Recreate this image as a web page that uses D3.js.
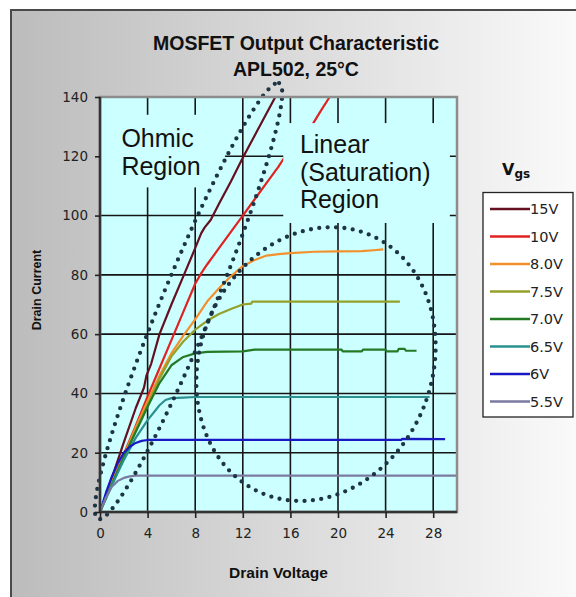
<!DOCTYPE html>
<html><head><meta charset="utf-8">
<script src="https://cdn.jsdelivr.net/npm/d3@7"></script>
<style>body{margin:0;background:#fff}svg{display:block}</style>
</head><body>
<svg id="c" width="576" height="597"></svg>
<script>
// ---------- data ----------
const titleLines = ["MOSFET Output Characteristic", "APL502, 25°C"];
const xTicks = [0, 4, 8, 12, 16, 20, 24, 28];
const yTicks = [0, 20, 40, 60, 80, 100, 120, 140];
const seriesNames = ["15V", "10V", "8.0V", "7.5V", "7.0V", "6.5V", "6V", "5.5V"];

const vgs15 = [[0,0],[0.5,5.5],[1,11.5],[2,23.5],[3,35],[3.7,42],[3.9,46],[4.3,50],[5,60],[6,70],[7,79.5],[8,89],[8.5,94],[8.8,96],[9.3,98.5],[10,104],[11,111.5],[12,119.5],[13,127],[14,134.5],[14.8,140.5]];
const vgs10 = [[0,0],[1,10],[2,19.5],[3,29],[4,39],[5,48.5],[6,58],[7,67.5],[8,77],[8.5,80.5],[9,83.5],[10,89],[11,94.5],[12,100],[13,105.5],[14,111],[15,116.5],[15.4,119],[16,122],[17,126.5],[17.9,131],[18.5,135],[19.3,140]];
const vgs8  = [[0,0],[1,10],[2,19],[3,28.5],[4,37.5],[5,46],[6,53.5],[7,59.5],[8,65],[9,71],[10,75.5],[11,79.5],[12,83],[13,85],[14,86.5],[15,87],[16,87.3],[18,87.8],[20,87.9],[22,88],[23,88.3],[23.8,88.6]];
const vgs75 = [[0,0],[1,9.5],[2,18.5],[3,27.5],[4,36],[5,45],[6,52.5],[7,57.5],[8,61.5],[9,64.5],[10,66.8],[11,68.5],[12,70],[12.7,70.3],[12.8,71],[25.2,71]];
const vgs70 = [[0,0],[1,9.5],[2,18.5],[3,27],[4,35.5],[5,43.5],[6,49.5],[7,52.3],[8,53.5],[9,54],[12,54.2],[13,54.8],[20.3,54.8],[20.4,54.2],[22,54.2],[22.1,54.8],[24,54.8],[24.1,54.2],[25,54.2],[25.1,55],[25.6,55],[25.7,54.4],[26.6,54.4]];
const vgs65 = [[0,0],[1,9],[2,17.5],[3,25],[4,31],[4.6,34],[5,36],[5.5,37.8],[6,38.4],[7,38.6],[8,38.8],[27.7,38.8]];
const vgs60 = [[0,0],[0.5,6.5],[1,12],[1.5,16.5],[2,20],[2.5,22],[3,23.3],[3.5,24],[4,24.3],[25.3,24.3],[25.4,24.7],[29,24.6]];
const vgs55 = [[0,0],[0.5,5],[1,8.5],[1.5,10.5],[2,11.5],[2.5,12],[3,12.3],[30,12.3]];
const seriesValues = [vgs15, vgs10, vgs8, vgs75, vgs70, vgs65, vgs60, vgs55];

// ---------- styles ----------
const seriesColors = ["#641020", "#e02222", "#f2902c", "#94a02a", "#247a24", "#2a9090", "#1818c4", "#7a7aa0"];
const plotBg = "#ccffff";

const svg = d3.select("#c");
const W = 576, H = 597;
const P = {l: 100, r: 457, t: 97, b: 512};
const x = d3.scaleLinear().domain([0, 30]).range([P.l, P.r]);
const y = d3.scaleLinear().domain([0, 140]).range([P.b, P.t]);

const defs = svg.append("defs");
const grad = defs.append("linearGradient").attr("id", "bg").attr("x1", "0").attr("x2", "1").attr("y1", "0").attr("y2", "0");
grad.append("stop").attr("offset", "0").attr("stop-color", "#bcbcbc");
grad.append("stop").attr("offset", "0.5").attr("stop-color", "#dcdcdc");
grad.append("stop").attr("offset", "1").attr("stop-color", "#fdfdfd");
defs.append("clipPath").attr("id", "plotclip").append("rect")
  .attr("x", P.l).attr("y", P.t).attr("width", P.r - P.l).attr("height", P.b - P.t);

svg.append("rect").attr("width", W).attr("height", H).attr("fill", "#fff");
svg.append("rect").attr("x", 11).attr("y", 10).attr("width", W + 20).attr("height", H + 20)
  .attr("fill", "url(#bg)").attr("stroke", "#4a4a4a").attr("stroke-width", 2);

// title
svg.append("g").selectAll("text").data(titleLines).join("text")
  .attr("x", 296).attr("y", (d, i) => 50 + i * 26)
  .attr("text-anchor", "middle").attr("font-family", "Liberation Sans, Arial, sans-serif")
  .attr("font-weight", "bold").attr("font-size", 19.5).attr("fill", "#111").text(d => d);

// plot area
svg.append("rect").attr("x", P.l).attr("y", P.t).attr("width", P.r - P.l).attr("height", P.b - P.t).attr("fill", plotBg);

// gridlines
const grid = svg.append("g").attr("stroke", "#151515").attr("stroke-width", 1.6);
grid.selectAll("line.v").data(xTicks.filter(d => d > 0)).join("line")
  .attr("x1", d => x(d)).attr("x2", d => x(d)).attr("y1", P.t).attr("y2", P.b);
grid.selectAll("line.h").data(yTicks.filter(d => d > 0 && d < 140)).join("line")
  .attr("x1", P.l).attr("x2", P.r).attr("y1", d => y(d)).attr("y2", d => y(d));

// series
const line = d3.line().x(d => x(d[0])).y(d => y(d[1]));
svg.append("g").attr("clip-path", "url(#plotclip)").selectAll("path")
  .data(seriesValues).join("path")
  .attr("d", line).attr("fill", "none")
  .attr("stroke", (d, i) => seriesColors[i]).attr("stroke-width", 2.2).attr("stroke-linejoin", "round");

// annotation text boxes (opaque, in data units)
const boxes = [
  {x0: 0, x1: 10.5, y0: 109.5, y1: 134, lines: ["Ohmic", "Region"], tx: 1.8, ty: [123, 113.6]},
  {x0: 15.4, x1: 29.4, y0: 97.5, y1: 131.2, lines: ["Linear", "(Saturation)", "Region"], tx: 16.8, ty: [121, 111.7, 102.4]}
];
boxes.forEach(b => {
  svg.append("rect").attr("x", x(b.x0)).attr("y", y(b.y1)).attr("width", x(b.x1) - x(b.x0)).attr("height", y(b.y0) - y(b.y1)).attr("fill", plotBg);
  svg.append("g").selectAll("text").data(b.lines).join("text")
    .attr("x", x(b.tx)).attr("y", (d, i) => y(b.ty[i]))
    .attr("font-family", "Liberation Sans, Arial, sans-serif").attr("font-size", 25).attr("fill", "#111").text(d => d);
});

// dotted ellipses
function ellipsePts(cx, cy, a, b, th) {
  const pts = [];
  for (let k = 0; k <= 360; k++) {
    const t = k * Math.PI / 180;
    const ex = a * Math.cos(t), ey = b * Math.sin(t);
    pts.push([cx + ex * Math.cos(th) - ey * Math.sin(th), cy + ex * Math.sin(th) + ey * Math.cos(th)]);
  }
  return pts;
}
const ohmTips = [[-0.17, -2.4], [15.05, 144.7]];
const p1 = [x(ohmTips[0][0]), y(ohmTips[0][1])], p2 = [x(ohmTips[1][0]), y(ohmTips[1][1])];
const ohm = ellipsePts((p1[0] + p2[0]) / 2, (p1[1] + p2[1]) / 2,
  Math.hypot(p2[0] - p1[0], p2[1] - p1[1]) / 2, 26, Math.atan2(p2[1] - p1[1], p2[0] - p1[0]));
const satCenter = [18.15, 49.9];
const sat = ellipsePts(x(satCenter[0]), y(satCenter[1]), 116, 140, 22 * Math.PI / 180);
const pl = d3.line();
[ohm, sat].forEach(pts => {
  svg.append("path").attr("d", pl(pts)).attr("fill", "none").attr("stroke", "#1d3444")
    .attr("stroke-width", 4.3).attr("stroke-linecap", "round").attr("stroke-dasharray", "0 8.4");
});

// plot border and axes
svg.append("rect").attr("x", P.l).attr("y", P.t).attr("width", P.r - P.l).attr("height", P.b - P.t)
  .attr("fill", "none").attr("stroke", "#8c8c8c").attr("stroke-width", 2.5);
const yAxis = d3.axisLeft(y).tickValues(yTicks).tickSize(5).tickPadding(7);
const xAxis = d3.axisBottom(x).tickValues(xTicks).tickSize(6).tickPadding(10);
const ga = svg.append("g").attr("transform", `translate(${P.l},0)`).call(yAxis);
const gb = svg.append("g").attr("transform", `translate(0,${P.b})`).call(xAxis);
[ga, gb].forEach(g => {
  g.select(".domain").attr("stroke", "#333").attr("stroke-width", 2.5);
  g.selectAll(".tick line").attr("stroke", "#222").attr("stroke-width", 1.6);
  g.selectAll(".tick text").attr("font-family", "DejaVu Sans, sans-serif").attr("font-size", 13.5).attr("fill", "#222");
});
gb.select(".domain").attr("d", `M${P.l},0H${P.r}`);
ga.select(".domain").attr("d", `M0,${P.t}V${P.b}`);

// axis titles
svg.append("text").attr("x", (P.l + P.r) / 2).attr("y", 578).attr("text-anchor", "middle")
  .attr("font-family", "Liberation Sans, Arial, sans-serif").attr("font-weight", "bold").attr("font-size", 15.5).attr("fill", "#111").text("Drain Voltage");
svg.append("text").attr("transform", "translate(40.5,290) rotate(-90)").attr("text-anchor", "middle")
  .attr("font-family", "Liberation Sans, Arial, sans-serif").attr("font-weight", "bold").attr("font-size", 12.5).attr("fill", "#111").text("Drain  Current");

// legend
const vt = svg.append("text").attr("x", 502).attr("y", 175).attr("font-family", "DejaVu Sans, sans-serif").attr("font-weight", "bold").attr("fill", "#111");
vt.append("tspan").attr("font-size", 16).text("V");
vt.append("tspan").attr("font-size", 12).attr("dy", 3).text("gs");
svg.append("rect").attr("x", 483).attr("y", 192.5).attr("width", 90).attr("height", 224.5).attr("fill", "#fff").attr("stroke", "#222").attr("stroke-width", 1.3);
const lg = svg.append("g").selectAll("g").data(seriesNames).join("g")
  .attr("transform", (d, i) => `translate(0,${209 + i * 27.5})`);
lg.append("line").attr("x1", 490).attr("x2", 530).attr("stroke", (d, i) => seriesColors[i]).attr("stroke-width", 2.5);
lg.append("text").attr("x", 530).attr("dy", "0.36em").attr("font-family", "DejaVu Sans, sans-serif").attr("font-size", 14.5).attr("fill", "#222").text(d => d);
</script>
</body></html>
